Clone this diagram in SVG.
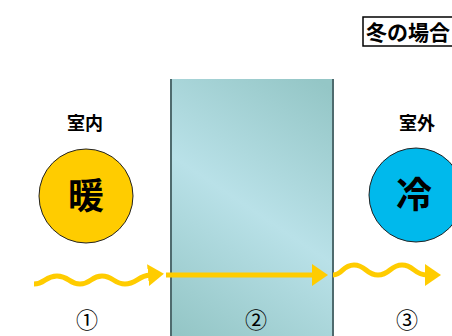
<svg xmlns="http://www.w3.org/2000/svg" width="452" height="336" viewBox="0 0 452 336">
<defs>
<linearGradient id="glass" x1="172" y1="330" x2="333" y2="90" gradientUnits="userSpaceOnUse">
<stop offset="0" stop-color="#94c6c6"/>
<stop offset="0.5" stop-color="#b9e1e8"/>
<stop offset="1" stop-color="#94c6c6"/>
</linearGradient>
<marker id="ah" viewBox="0 0 16 22" refX="2" refY="11" markerWidth="16" markerHeight="22" markerUnits="userSpaceOnUse" orient="auto">
<path d="M0,0 L16,11 L0,22 Z" fill="#ffcc00"/>
</marker>
</defs>
<style>
.lbl{font-family:"Noto Sans CJK JP","Noto Sans",sans-serif;font-weight:bold;fill:#000;text-anchor:middle}
.num{font-family:"Noto Sans CJK JP","Noto Sans",sans-serif;font-size:22px;fill:#000;text-anchor:middle}
.heat{fill:none;stroke:#ffcc00;stroke-width:5;stroke-linecap:butt}
.circ{stroke:#222;stroke-width:1}
</style>
<g id="title">
<rect x="363" y="17" width="100" height="29" fill="#fff" stroke="#000" stroke-width="1.5"/>
<text class="lbl" x="366" y="40" font-size="21" style="text-anchor:start">冬の場合</text>
</g>
<g id="glass-pane">
<rect x="171" y="79" width="162" height="260" fill="url(#glass)"/>
<line x1="171" y1="79" x2="171" y2="336" stroke="#4f6b6e" stroke-width="2"/>
<line x1="333" y1="79" x2="333" y2="336" stroke="#4f6b6e" stroke-width="2"/>
</g>
<g id="indoor">
<text class="lbl" x="85" y="130" font-size="18">室内</text>
<circle class="circ" cx="86" cy="196" r="47" fill="#ffcc00"/>
<text class="lbl" x="86" y="209" font-size="36">暖</text>
</g>
<g id="outdoor">
<text class="lbl" x="417" y="130" font-size="18">室外</text>
<circle class="circ" cx="416" cy="195" r="47" fill="#00b9ec"/>
<text class="lbl" x="414" y="208" font-size="36">冷</text>
</g>
<g id="connectors">
<path class="heat" d="M34,284 C45,284 45,276 57,276 S69,284 80,284 S91,276 102,276 S114,284 125,284 S138,276 150,275" marker-end="url(#ah)"/>
<path class="heat" d="M166,275 L314,275" marker-end="url(#ah)"/>
<path class="heat" d="M333,275 C343,275 342,265 354,265 S366,275 378,275 S390,265 402,265 S414,275 427,275" marker-end="url(#ah)"/>
</g>
<g id="numbers">
<text class="num" x="87" y="328">①</text>
<text class="num" x="256" y="328">②</text>
<text class="num" x="407" y="328">③</text>
</g>
</svg>
